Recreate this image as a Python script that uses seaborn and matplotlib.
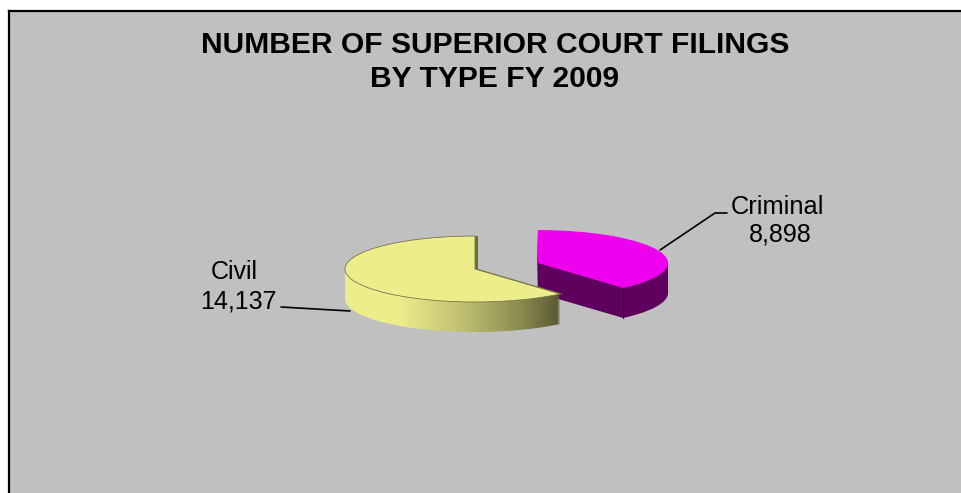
import matplotlib
matplotlib.use("Agg")
import matplotlib.pyplot as plt
import numpy as np
import seaborn as sns
from matplotlib.colors import LinearSegmentedColormap

# chart values
categories = ["Civil", "Criminal"]
filings = [14137, 8898]
explode = [0, 0.517]
title_lines = ["NUMBER OF SUPERIOR COURT FILINGS", "BY TYPE FY 2009"]

WIDTH, HEIGHT = 961, 493
# the chart box starts just inside the white margin
BOX_LEFT, BOX_TOP = 9, 11
# pie apex and radii in pixels, gives the squashed 3d look
APEX_X, APEX_Y = 475, 269
RX, RY = 130, 33
DEPTH = 30

BACKGROUND = "#C0C0C0"
TOP_COLORS = ["#EDED8B", "#EE00EE"]
SIDE_COLOR = "#5E005E"
side_cmap = LinearSegmentedColormap.from_list(
    "civil_side",
    [(0, "#EDED8B"), (0.25, "#EDED8B"), (0.55, "#BDBD70"), (0.8, "#8C8C52"), (1, "#55552E")],
)
NO_EDGE = {"linewidth": 0}


def to_data(px, py):
    return (px - APEX_X) / RX, (APEX_Y - py) / RY


sns.set_theme(style="white")
plt.rcParams["font.family"] = ["Liberation Sans", "DejaVu Sans"]

fig = plt.figure(figsize=(WIDTH / 100, HEIGHT / 100), dpi=100, facecolor="white")
ax = fig.add_axes([BOX_LEFT / WIDTH, 0, (WIDTH - BOX_LEFT) / WIDTH, (HEIGHT - BOX_TOP) / HEIGHT])

# the wall behind the civil slice, a few pixels to the right of it
back, _ = ax.pie(filings, explode=explode, startangle=90, colors=["#6E6E3C", "none"],
                 center=(3 / RX, 0), wedgeprops=NO_EDGE)
back[0].set_zorder(3)
back[1].set_visible(False)

# stack the pie downwards for the side walls
gradient = np.linspace(0, 1, 256).reshape(1, -1)
for i, depth in enumerate(range(DEPTH, 0, -1)):
    wedges, _ = ax.pie(filings, explode=explode, startangle=90, colors=["none", SIDE_COLOR],
                       center=(0, -depth / RY), wedgeprops=NO_EDGE)
    wedges[1].set_zorder(1 + i * 0.01)
    wedges[0].set_visible(False)
    img = ax.imshow(gradient, cmap=side_cmap, extent=to_data(345, 0)[:1] + to_data(563, 0)[:1] + (-3, 3),
                    aspect="auto", zorder=4 + i * 0.01)
    img.set_clip_path(wedges[0])

# top faces
top, _ = ax.pie(filings, explode=explode, startangle=90, colors=TOP_COLORS, wedgeprops=NO_EDGE)
top[1].set_zorder(2)
top[0].set_zorder(5)
top[0].set_edgecolor("#77774A")
top[0].set_linewidth(0.6)

# dark seam where the criminal slice's two walls meet
corner = np.deg2rad(top[1].theta1)
seam_x = top[1].center[0] + np.cos(corner)
seam_y = top[1].center[1] + np.sin(corner)
ax.plot([seam_x, seam_x], [seam_y, seam_y - DEPTH / RY], color="#2A002A", lw=0.8, zorder=2.5)

ax.set_aspect("auto")
ax.set_frame_on(True)
ax.set_facecolor(BACKGROUND)
ax.set_xticks([])
ax.set_yticks([])
ax.spines["right"].set_visible(False)
ax.spines["bottom"].set_visible(False)
ax.spines["top"].set_linewidth(1.6)
ax.spines["left"].set_linewidth(1.6)
ax.spines["top"].set_color("black")
ax.spines["left"].set_color("black")

# title
ax.text(*to_data(495, 53), title_lines[0], ha="center", va="baseline", fontsize=21.6, fontweight="bold", color="black")
ax.text(*to_data(495, 87), title_lines[1], ha="center", va="baseline", fontsize=21.6, fontweight="bold", color="black")

# data labels
ax.text(*to_data(234, 279), categories[0], ha="center", va="baseline", fontsize=18, color="black")
ax.text(*to_data(238, 308), f"{filings[0]:,}", ha="center", va="baseline", fontsize=18, color="black")
ax.text(*to_data(777, 214), categories[1], ha="center", va="baseline", fontsize=18.3, color="black")
ax.text(*to_data(780, 242), f"{filings[1]:,}", ha="center", va="baseline", fontsize=18, color="black")

# leader lines
for pts in ([(281, 307), (350, 311)], [(660, 250), (715, 213), (727, 213)]):
    xs, ys = zip(*[to_data(*p) for p in pts])
    ax.plot(xs, ys, color="black", lw=1.2, zorder=6)

ax.set_xlim(to_data(BOX_LEFT, 0)[0], to_data(WIDTH, 0)[0])
ax.set_ylim(to_data(0, HEIGHT)[1], to_data(0, BOX_TOP)[1])

fig.savefig("out.png", dpi=100, facecolor="white")
plt.close(fig)
